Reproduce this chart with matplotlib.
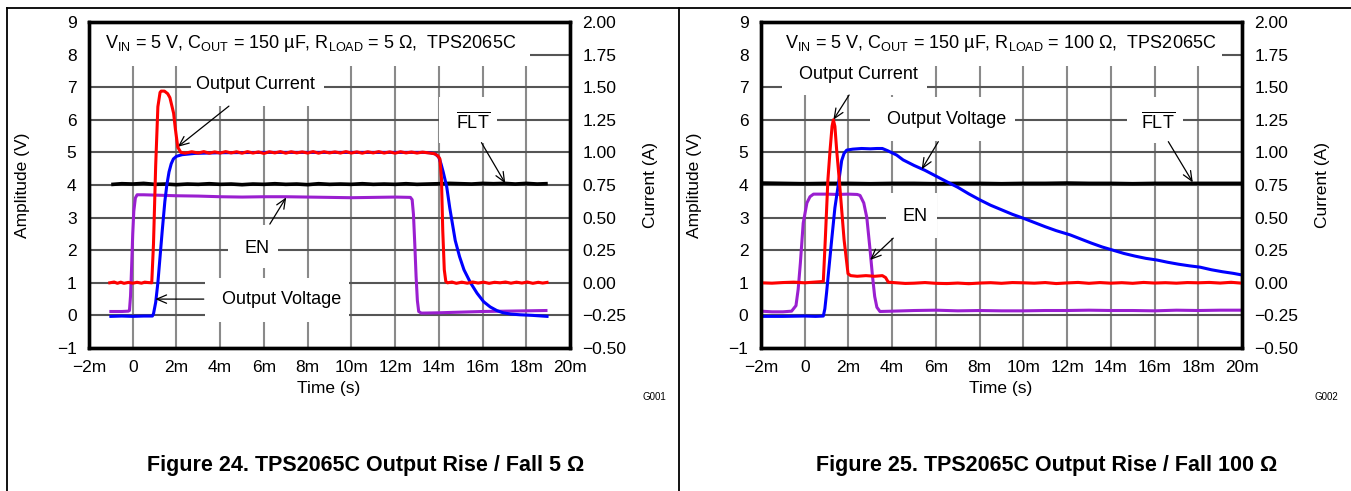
import numpy as np
import matplotlib.pyplot as plt
from matplotlib.patches import Rectangle
from matplotlib.lines import Line2D

plt.rcParams['font.family'] = ['Liberation Sans', 'DejaVu Sans']
plt.rcParams['mathtext.fontset'] = 'custom'
plt.rcParams['mathtext.rm'] = 'Liberation Sans'
plt.rcParams['mathtext.it'] = 'Liberation Sans:italic'
plt.rcParams['mathtext.bf'] = 'Liberation Sans:bold'

# оси
x_ticks = [-2, 0, 2, 4, 6, 8, 10, 12, 14, 16, 18, 20]
x_labels = ['\u22122m', '0', '2m', '4m', '6m', '8m', '10m', '12m', '14m', '16m', '18m', '20m']
v_ticks = [-1, 0, 1, 2, 3, 4, 5, 6, 7, 8, 9]
v_labels = ['\u22121', '0', '1', '2', '3', '4', '5', '6', '7', '8', '9']
a_ticks = [-0.5, -0.25, 0, 0.25, 0.5, 0.75, 1.0, 1.25, 1.5, 1.75, 2.0]
a_labels = ['\u22120.50', '\u22120.25', '0.00', '0.25', '0.50', '0.75', '1.00',
            '1.25', '1.50', '1.75', '2.00']

# ---- рисунок 24, 5 Ом ----
t_cur5 = [-1.05, -0.85, -0.7, -0.55, -0.4, -0.2, 0.0, 0.2, 0.4, 0.55, 0.7, 0.87, 0.95,
          1.05, 1.15, 1.25, 1.3, 1.45, 1.6, 1.7, 1.8, 1.87, 1.95, 2.06, 2.2, 2.4, 2.7,
          3.0, 3.25, 3.5, 3.75, 4.0, 4.25, 4.5, 4.75, 5.0, 5.25, 5.5, 5.75, 6.0, 6.25,
          6.5, 6.75, 7.0, 7.25, 7.5, 7.75, 8.0, 8.25, 8.5, 8.75, 9.0, 9.25, 9.5, 9.75,
          10.0, 10.25, 10.5, 10.75, 11.0, 11.25, 11.5, 11.75, 12.0, 12.25, 12.5, 12.75,
          13.0, 13.25, 13.5, 13.8, 13.95, 14.05, 14.12, 14.18, 14.25, 14.32, 14.4,
          14.6, 14.8, 15.05, 15.3, 15.55, 15.8, 16.05, 16.3, 16.55, 16.8, 17.05, 17.3,
          17.55, 17.8, 18.05, 18.3, 18.55, 18.75, 18.95]
i_cur5 = [0.0, 0.006, -0.004, 0.005, -0.004, 0.003, -0.003, 0.004, -0.003, 0.005,
          0.002, 0.0, 0.3, 0.9, 1.35, 1.46, 1.47, 1.47, 1.45, 1.42, 1.35, 1.3, 1.18,
          1.04, 1.0, 0.994, 1.005, 0.995, 1.006, 0.994, 1.004, 0.995, 1.006, 0.996,
          1.005, 0.994, 1.006, 0.995, 1.004, 0.992, 1.005, 0.996, 1.006, 0.994, 1.005,
          0.996, 1.004, 0.995, 1.006, 0.994, 1.005, 0.996, 1.004, 0.995, 1.006, 0.995,
          1.004, 0.994, 1.005, 0.996, 1.006, 0.995, 1.004, 0.994, 1.005, 0.996, 1.003,
          0.995, 1.002, 0.997, 0.99, 0.975, 0.95, 0.8, 0.4, 0.1, 0.01, 0.0, 0.006,
          -0.004, 0.005, -0.003, 0.006, -0.002, 0.005, -0.004, 0.004, 0.0, 0.006,
          -0.003, 0.005, -0.002, 0.006, -0.004, 0.004, -0.002, 0.003]

t_vout5 = [-1.0, -0.5, 0.0, 0.5, 0.9, 0.95, 1.05, 1.15, 1.25, 1.35, 1.47, 1.56, 1.66,
           1.76, 1.86, 2.0, 2.26, 2.85, 4.0, 6.0, 8.0, 10.0, 12.0, 13.3, 13.6, 13.85,
           14.0, 14.1, 14.2, 14.36, 14.5, 14.75, 14.95, 15.15, 15.45, 15.75, 16.05,
           16.35, 16.65, 16.94, 17.3, 17.7, 18.3, 18.95]
v_vout5 = [-0.03, -0.02, -0.03, -0.02, -0.02, 0.05, 0.4, 1.0, 1.8, 2.6, 3.5, 4.0, 4.4,
           4.65, 4.8, 4.88, 4.93, 4.97, 4.99, 5.0, 5.0, 5.0, 5.0, 5.0, 4.99, 4.95,
           4.85, 4.65, 4.4, 3.95, 3.3, 2.3, 1.8, 1.4, 1.0, 0.68, 0.42, 0.26, 0.15,
           0.08, 0.04, 0.02, 0.0, -0.03]

t_en5 = [-1.0, -0.5, -0.2, -0.15, -0.1, -0.05, 0.0, 0.05, 0.12, 0.2, 0.5, 1.0, 2.0,
         3.0, 4.0, 5.0, 6.0, 7.0, 8.0, 9.0, 10.0, 11.0, 12.0, 12.7, 12.78, 12.84,
         12.9, 12.96, 13.02, 13.08, 13.2, 14.0, 15.0, 16.0, 17.0, 18.0, 18.9]
v_en5 = [0.12, 0.12, 0.13, 0.15, 0.6, 1.5, 2.5, 3.2, 3.6, 3.7, 3.7, 3.69, 3.67, 3.66,
         3.64, 3.63, 3.64, 3.64, 3.63, 3.62, 3.61, 3.62, 3.63, 3.62, 3.55, 3.1, 2.2,
         1.2, 0.45, 0.12, 0.07, 0.08, 0.1, 0.12, 0.13, 0.14, 0.15]

t_flt5 = [-0.9, -0.5, 0.0, 0.5, 1.0, 1.5, 2.0, 2.5, 3.0, 3.5, 4.0, 4.5, 5.0, 5.5, 6.0,
          6.5, 7.0, 7.5, 8.0, 8.5, 9.0, 9.5, 10.0, 10.5, 11.0, 11.5, 12.0, 12.5, 13.0,
          13.5, 14.0, 14.5, 15.0, 15.5, 16.0, 16.5, 17.0, 17.5, 18.0, 18.5, 18.9]
v_flt5 = [4.02, 4.04, 4.03, 4.05, 4.02, 4.03, 4.01, 4.03, 4.02, 4.04, 4.02, 4.03, 4.01,
          4.03, 4.02, 4.04, 4.02, 4.03, 4.01, 4.04, 4.02, 4.03, 4.02, 4.04, 4.02, 4.03,
          4.02, 4.04, 4.02, 4.03, 4.04, 4.05, 4.04, 4.03, 4.05, 4.04, 4.05, 4.03, 4.05,
          4.03, 4.04]

# ---- рисунок 25, 100 Ом ----
t_cur100 = [-2.0, -1.5, -1.0, -0.5, 0.0, 0.5, 0.85, 0.94, 1.06, 1.16, 1.25, 1.31, 1.38,
            1.46, 1.58, 1.8, 1.98, 2.1, 2.4, 2.8, 3.2, 3.55, 3.7, 3.82, 4.2, 4.6, 5.0,
            5.5, 6.0, 6.5, 7.0, 7.5, 8.0, 8.5, 9.0, 9.5, 10.0, 10.5, 11.0, 11.5, 12.0,
            12.5, 13.0, 13.5, 14.0, 14.5, 15.0, 15.5, 16.0, 16.5, 17.0, 17.5, 18.0,
            18.5, 19.0, 19.5, 20.0]
i_cur100 = [0.0, -0.003, 0.002, 0.005, 0.0, 0.006, 0.01, 0.33, 0.79, 1.02, 1.2, 1.25,
            1.2, 1.02, 0.79, 0.33, 0.07, 0.055, 0.05, 0.055, 0.05, 0.055, 0.04, 0.005,
            0.0, -0.005, -0.003, 0.002, -0.004, -0.006, -0.002, -0.007, -0.002, 0.001,
            -0.004, 0.002, 0.0, -0.003, 0.002, -0.006, -0.001, 0.003, -0.004, 0.002,
            -0.003, 0.001, -0.004, 0.003, -0.002, 0.001, -0.003, 0.002, 0.0, 0.003,
            -0.002, 0.004, -0.003]

t_vout100 = [-2.0, -1.0, 0.0, 0.5, 0.85, 0.92, 1.0, 1.1, 1.23, 1.38, 1.54, 1.69, 1.8,
             1.92, 2.2, 2.6, 3.0, 3.3, 3.55, 3.8, 4.2, 4.5, 5.0, 5.5, 6.04, 6.5, 7.0,
             7.5, 8.02, 8.5, 9.0, 9.5, 10.0, 10.5, 11.0, 11.5, 12.14, 12.6, 13.1,
             13.6, 14.1, 14.6, 15.1, 15.6, 16.1, 16.6, 17.1, 17.6, 18.08, 18.6, 19.1,
             19.6, 20.0]
v_vout100 = [-0.03, -0.03, -0.02, -0.03, -0.02, 0.2, 0.7, 1.4, 2.3, 3.3, 4.03, 4.75,
             4.97, 5.07, 5.1, 5.12, 5.11, 5.12, 5.12, 5.05, 4.92, 4.77, 4.6, 4.45,
             4.26, 4.1, 3.93, 3.73, 3.54, 3.38, 3.24, 3.1, 2.98, 2.85, 2.72, 2.6, 2.47,
             2.35, 2.22, 2.1, 2.0, 1.9, 1.82, 1.75, 1.7, 1.63, 1.57, 1.52, 1.48, 1.4,
             1.34, 1.29, 1.24]

t_en100 = [-2.0, -1.5, -1.0, -0.6, -0.4, -0.3, -0.2, -0.07, 0.1, 0.24, 0.4, 1.0, 1.5,
           2.0, 2.4, 2.53, 2.7, 2.84, 2.99, 3.1, 3.2, 3.3, 3.44, 4.0, 5.0, 6.0, 7.0,
           8.0, 9.0, 10.0, 11.0, 12.0, 13.0, 14.0, 15.0, 16.0, 17.0, 18.0, 19.0, 20.0]
v_en100 = [0.13, 0.11, 0.11, 0.13, 0.3, 0.8, 1.6, 2.83, 3.45, 3.64, 3.72, 3.72, 3.71,
           3.72, 3.71, 3.68, 3.45, 3.0, 2.0, 1.2, 0.58, 0.25, 0.12, 0.13, 0.15, 0.16,
           0.14, 0.15, 0.14, 0.14, 0.15, 0.15, 0.16, 0.15, 0.15, 0.14, 0.16, 0.15,
           0.16, 0.16]

t_flt100 = [-2.0, -1.0, 0.0, 1.0, 2.0, 3.0, 4.0, 5.0, 6.0, 7.0, 8.0, 9.0, 10.0, 11.0,
            12.0, 13.0, 14.0, 15.0, 16.0, 17.0, 18.0, 19.0, 20.0]
v_flt100 = [4.06, 4.05, 4.04, 4.05, 4.05, 4.04, 4.05, 4.05, 4.04, 4.05, 4.05, 4.04,
            4.05, 4.05, 4.06, 4.05, 4.05, 4.04, 4.05, 4.05, 4.05, 4.05, 4.05]

W, H = 1351, 491
fig = plt.figure(figsize=(W / 100, H / 100), dpi=100)


def px(x, y):
    return x / W, 1 - y / H


# рамки
for seg in [((7, 8), (W, 8)), ((7, 8), (7, H)), ((679, 8), (679, H))]:
    (x0, y0), (x1, y1) = seg
    a0, b0 = px(x0, y0)
    a1, b1 = px(x1, y1)
    fig.add_artist(Line2D([a0, a1], [b0, b1], color='black', lw=1.3))


def panel(left_px, t_c, i_c, t_v, v_v, t_e, v_e, t_f, v_f, boxes, texts, arrows,
          title, title_x, gname):
    ax = fig.add_axes([left_px / W, 1 - 348 / H, 481 / W, 326 / H])
    ax.set_xlim(-2, 20)
    ax.set_ylim(-1, 9)
    ax.set_xticks(x_ticks)
    ax.set_xticklabels(x_labels)
    ax.set_yticks(v_ticks)
    ax.set_yticklabels(v_labels)
    ax.set_axisbelow(True)
    ax.grid(axis='y', color='#555555', lw=1.5)
    ax.grid(axis='x', color='#8a8a8a', lw=1.5)
    ax.tick_params(length=0, labelsize=12.5, pad=9)
    for s in ax.spines.values():
        s.set_linewidth(2.4)

    ax2 = ax.twinx()
    ax2.set_ylim(-0.5, 2.0)
    ax2.set_yticks(a_ticks)
    ax2.set_yticklabels(a_labels)
    ax2.tick_params(length=0, labelsize=12.5, pad=9)
    for s in ax2.spines.values():
        s.set_linewidth(2.4)

    # белые подложки под надписями
    for (x0, x1, y0, y1) in boxes:
        ax.add_patch(Rectangle((x0, y0), x1 - x0, y1 - y0, facecolor='white',
                               edgecolor='none', zorder=1))

    ax.plot(t_f, v_f, color='black', lw=2.6, zorder=2)
    ax.plot(t_e, v_e, color='#9a1fd0', lw=2.2, zorder=2)
    ax.plot(t_v, v_v, color='#0000ff', lw=2.2, zorder=2)
    ax2.plot(t_c, i_c, color='#ff0000', lw=2.2, zorder=2)

    for (s, x, y, va) in texts:
        ax.text(x, y, s, ha='center', va=va, fontsize=13, zorder=3)
    for (tail, head) in arrows:
        ax.annotate('', xy=head, xytext=tail, zorder=3,
                    arrowprops=dict(arrowstyle='->,head_length=0.7,head_width=0.3',
                                    color='black', lw=0.9, shrinkA=0, shrinkB=0))
    ax.text(title_x, 8.35, title, ha='left', va='center', fontsize=13, zorder=3)

    fig.text(*px(left_px - 66, 185), 'Amplitude (V)', rotation=90, ha='center',
             va='center', fontsize=12.5)
    fig.text(*px(left_px + 562, 185), 'Current (A)', rotation=90, ha='center',
             va='center', fontsize=12.5)
    fig.text(*px(left_px + 240, 388), 'Time (s)', ha='center', va='center',
             fontsize=12.5)
    fig.text(*px(left_px + 577, 397), gname, ha='right', va='center', fontsize=7)
    return ax


panel(89, t_cur5, i_cur5, t_vout5, v_vout5, t_en5, v_en5, t_flt5, v_flt5,
      boxes=[(-2, 18.17, 7.65, 9), (2.66, 8.77, 6.42, 7.65), (13.99, 16.64, 5.3, 6.71),
             (4.37, 6.66, 1.44, 2.77), (3.31, 9.91, -0.19, 1.15)],
      texts=[('Output Current', 5.59, 7.07, 'center'),
             (r'$\overline{\rm FLT}$', 15.55, 5.74, 'baseline'),
             ('EN', 5.7, 2.06, 'center'),
             ('Output Voltage', 6.83, 0.49, 'center')],
      arrows=[((4.4, 6.42), (2.06, 5.17)), ((15.95, 5.3), (17.04, 4.05)),
              ((6.27, 2.8), (7.02, 3.62)), ((3.25, 0.5), (1.03, 0.5))],
      title='V$_{\\rm IN}$ = 5 V, C$_{\\rm OUT}$ = 150 \u00b5F, R$_{\\rm LOAD}$ = 5 \u03a9,  TPS2065C',
      title_x=-1.27, gname='G001')

panel(761, t_cur100, i_cur100, t_vout100, v_vout100, t_en100, v_en100, t_flt100,
      v_flt100,
      boxes=[(-2, 19.1, 7.65, 9), (-1.05, 5.58, 6.76, 7.65), (2.99, 9.62, 5.35, 6.7),
             (14.73, 17.32, 5.3, 6.71), (3.74, 6.03, 2.37, 3.74)],
      texts=[('Output Current', 2.47, 7.4, 'center'),
             ('Output Voltage', 6.51, 6.0, 'center'),
             (r'$\overline{\rm FLT}$', 16.18, 5.74, 'baseline'),
             ('EN', 5.04, 3.03, 'center')],
      arrows=[((2.03, 6.76), (1.31, 6.0)), ((6.11, 5.33), (5.35, 4.48)),
              ((16.63, 5.33), (17.75, 4.08)), ((4.05, 2.37), (2.99, 1.7))],
      title='V$_{\\rm IN}$ = 5 V, C$_{\\rm OUT}$ = 150 \u00b5F, R$_{\\rm LOAD}$ = 100 \u03a9,  TPS2065C',
      title_x=-0.9, gname='G002')

fig.text(*px(366, 465), 'Figure 24. TPS2065C Output Rise / Fall 5 \u03a9', ha='center',
         va='center', fontsize=15.5, fontweight='bold')
fig.text(*px(1047, 465), 'Figure 25. TPS2065C Output Rise / Fall 100 \u03a9',
         ha='center', va='center', fontsize=15.5, fontweight='bold')

fig.savefig('out.png', dpi=100)
